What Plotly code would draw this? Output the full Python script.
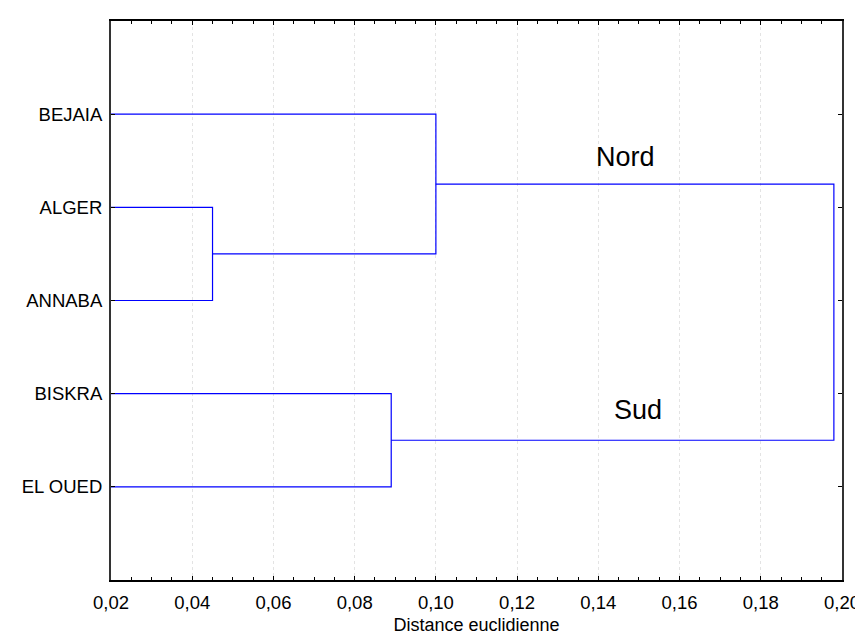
import plotly.graph_objects as go

# Leaves (top to bottom)
leaves = ["BEJAIA", "ALGER", "ANNABA", "BISKRA", "EL OUED"]
# Linkage: (left member, right member, distance) ; members are leaf names or cluster ids
merges = [
    ("ALGER", "ANNABA", 0.045),      # c0
    ("BEJAIA", "c0", 0.100),         # c1  (Nord)
    ("BISKRA", "EL OUED", 0.089),    # c2  (Sud)
    ("c1", "c2", 0.198),             # c3
]
group_labels = ["Nord", "Sud"]
x_ticks = [0.02, 0.04, 0.06, 0.08, 0.10, 0.12, 0.14, 0.16, 0.18, 0.20]
x_title = "Distance euclidienne"

# positions of nodes: (y, height)
pos = {name: (i + 1, 0.0) for i, name in enumerate(leaves)}
xs, ys = [], []
for k, (a, b, d) in enumerate(merges):
    ya, ha = pos[a]
    yb, hb = pos[b]
    xs += [ha, d, d, hb, None]
    ys += [ya, ya, yb, yb, None]
    pos[f"c{k}"] = ((ya + yb) / 2, d)

fig = go.Figure()
fig.add_trace(go.Scatter(x=xs, y=ys, mode="lines",
                         line=dict(color="#0000ff", width=1.2),
                         hoverinfo="skip", showlegend=False))

font = "Arial, Liberation Sans, sans-serif"
fig.add_annotation(x=0.1468, y=1.46, text=group_labels[0], showarrow=False,
                   font=dict(family=font, size=27, color="black"))
fig.add_annotation(x=0.1498, y=4.17, text=group_labels[1], showarrow=False,
                   font=dict(family=font, size=27, color="black"))

fig.update_layout(
    width=863, height=635,
    margin=dict(l=103, r=21, t=11, b=61),
    paper_bgcolor="white", plot_bgcolor="white",
    separators=", ",
    font=dict(family=font, size=18.5, color="black"),
    xaxis=dict(
        range=[0.02, 0.20], tickvals=x_ticks, tickformat=".2f",
        showline=True, linecolor="black", linewidth=1.5, mirror="ticks",
        ticks="inside", ticklen=4, tickcolor="black",
        showgrid=True, gridcolor="#e3e3e3", griddash="dot", gridwidth=1,
        zeroline=False,
        minor=dict(dtick=0.005, ticks="inside", ticklen=3, tickcolor="black", showgrid=False),
        title=dict(text=x_title, font=dict(size=18), standoff=6),
        tickfont=dict(size=18.5),
        ticklabelstandoff=5,
    ),
    yaxis=dict(
        range=[len(leaves) + 1, 0], tickvals=list(range(1, len(leaves) + 1)),
        ticktext=leaves,
        showline=True, linecolor="#333333", linewidth=2, mirror="ticks",
        ticks="inside", ticklen=4, tickcolor="black",
        showgrid=False, zeroline=False,
        tickfont=dict(size=18.5),
        ticklabelstandoff=3,
    ),
)

fig.write_html("out.html")
